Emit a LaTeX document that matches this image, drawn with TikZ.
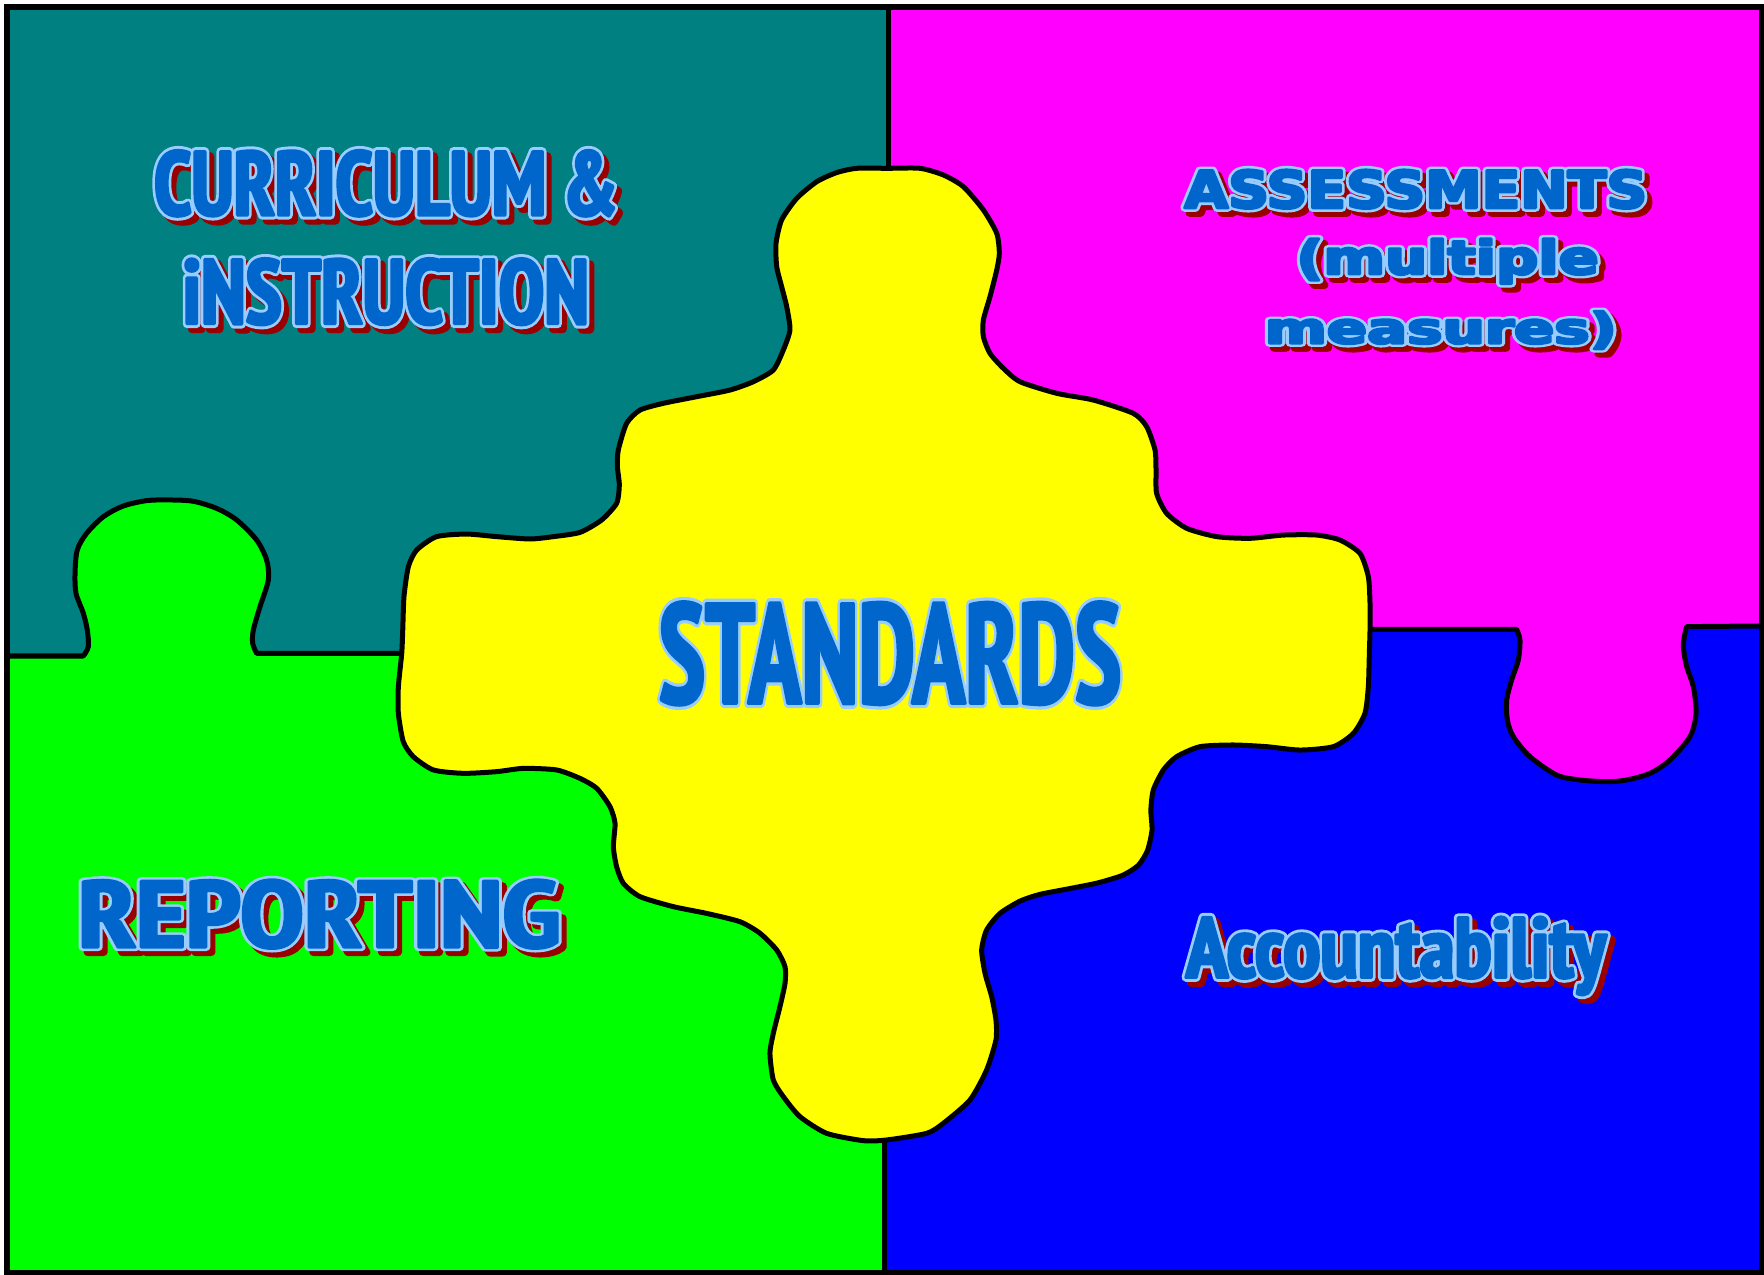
\documentclass[tikz,border=0pt]{standalone}
\usepackage{fontspec}
\usepackage{graphicx}
\IfFontExistsTF{PT Sans Narrow}
  {\newfontfamily\wordbase{PT Sans Narrow}}
  {\IfFontExistsTF{Liberation Sans Narrow}
    {\newfontfamily\wordbase{Liberation Sans Narrow}}
    {\newfontfamily\wordbase{DejaVu Sans}}}
\newfontfamily\widebase{DejaVu Sans}
\newcommand\wordfont{\wordbase\bfseries}
\newcommand\widefont{\widebase\bfseries}

\definecolor{pieceteal}{HTML}{008080}
\definecolor{piecemagenta}{HTML}{FF00FF}
\definecolor{piecegreen}{HTML}{00FF00}
\definecolor{pieceblue}{HTML}{0000FF}
\definecolor{pieceyellow}{HTML}{FFFF00}
\definecolor{wordblue}{HTML}{0066CC}
\definecolor{wordring}{HTML}{99CCFF}
\definecolor{wordshadow}{HTML}{990000}

% heavy outlined word with an optional dark red drop shadow
\newsavebox\glyphbox
\newlength\ringw \setlength\ringw{0.03cm}
\newlength\coregrow \setlength\coregrow{0.016cm}
\newlength\natw
\newlength\nath
\newlength\shadowoff
\newcommand\strokedword[5]{% #1 font, #2 fill colour, #3 stroke rgb, #4 pen (bp), #5 text
  \textcolor{#2}{\special{pdf:literal direct 2 Tr #4 w 1 j #3 RG}%
    #1#5\special{pdf:literal direct 0 Tr}}}
\newcommand\puzzleword[5][\wordfont]{% #2 width, #3 height (picture units), #4 text, #5 shadow offset
  \sbox\glyphbox{#1#4}%
  \setlength\natw{\wd\glyphbox}%
  \setlength\nath{\dimexpr\ht\glyphbox+\dp\glyphbox\relax}%
  \pgfmathsetmacro\glyphg{sqrt((#2*0.01125cm/\natw)*(#3*0.01125cm/\nath))}%
  \pgfmathsetmacro\penin{2*\coregrow/\glyphg}%
  \pgfmathsetmacro\penout{\penin+2*\ringw/\glyphg}%
  \pgfmathsetmacro\glyphsx{#2*0.01125cm/(\natw+\penout)}%
  \pgfmathsetmacro\glyphsy{#3*0.01125cm/(\nath+\penout)}%
  \pgfmathsetmacro\peninbp{\penin/1.00375}%
  \pgfmathsetmacro\penoutbp{\penout/1.00375}%
  \setlength\shadowoff{#5}%
  \pgfmathsetlengthmacro\shadowx{\shadowoff/\glyphsx}%
  \pgfmathsetlengthmacro\shadowy{-\shadowoff/\glyphsy}%
  \scalebox{\glyphsx}[\glyphsy]{%
    \ifdim\shadowoff>0pt
      \makebox[0pt][l]{\hspace*{\shadowx}\raisebox{\shadowy}{%
        \strokedword{#1}{wordshadow}{0.6 0 0}{\penoutbp}{#4}}}%
    \fi
    \makebox[0pt][l]{\strokedword{#1}{wordring}{0.6 0.8 1}{\penoutbp}{#4}}%
    \strokedword{#1}{wordblue}{0 0.4 0.8}{\peninbp}{#4}}}

\begin{document}
\begin{tikzpicture}[x=0.01125cm, y=-0.01125cm,
    edge/.style={line width=0.05cm, line join=round, line cap=round},
    word/.style={inner sep=0pt, anchor=center}]
\useasboundingbox (0,0) rectangle (1568,1133.33);

% Filling the four outer pieces
\fill[pieceteal] (6.4,6.4) rectangle (790,583);
\fill[piecemagenta] (790,6.4) rectangle (1566.3,558);
\fill[pieceblue] (786,557) rectangle (1566.3,1131);
\fill[piecegreen] (6.4,583.1) -- plot[smooth, tension=0.5] coordinates {(74.1,583.1) (78.5,574.8) (77.6,560) (74.1,545.2) (67.6,527.4) (66.7,509.6) (68.7,488.9) (77,474.1) (91.9,459.3) (109.6,449.8) (130.4,445) (151.1,444.4) (171.9,445.6) (192.6,451.9) (210.4,462.2) (228.1,480) (237,497.8) (238.5,515.6) (231.1,539.3) (225.2,560) (224.6,571.9) (228.1,580.7)} -- (786,580.7) -- (786,1131) -- (6.4,1131) -- cycle;
\fill[piecemagenta] (1348.1,559.4) -- plot[smooth, tension=0.5] coordinates {(1348.1,559.4) (1351.1,568.9) (1349.6,586.7) (1343.7,604.4) (1339.3,622.2) (1339.9,640) (1345.2,654.8) (1360,672.6) (1383.7,688.9) (1404.4,693.3) (1428.1,694.8) (1445.9,693.3) (1466.7,687.4) (1484.4,675.6) (1502.2,654.8) (1507.6,634.1) (1505.2,610.4) (1499.3,592.6) (1496.3,574.8) (1497.8,562.9) (1499.3,557)} -- (1499.3,550) -- (1348.1,550) -- cycle;

% Drawing the joins between the outer pieces
\draw[edge] (6.4,583.1) -- plot[smooth, tension=0.5] coordinates {(74.1,583.1) (78.5,574.8) (77.6,560) (74.1,545.2) (67.6,527.4) (66.7,509.6) (68.7,488.9) (77,474.1) (91.9,459.3) (109.6,449.8) (130.4,445) (151.1,444.4) (171.9,445.6) (192.6,451.9) (210.4,462.2) (228.1,480) (237,497.8) (238.5,515.6) (231.1,539.3) (225.2,560) (224.6,571.9) (228.1,580.7)} -- (357,580.7);
\draw[edge] (1217.8,559.4) -- plot[smooth, tension=0.5] coordinates {(1348.1,559.4) (1351.1,568.9) (1349.6,586.7) (1343.7,604.4) (1339.3,622.2) (1339.9,640) (1345.2,654.8) (1360,672.6) (1383.7,688.9) (1404.4,693.3) (1428.1,694.8) (1445.9,693.3) (1466.7,687.4) (1484.4,675.6) (1502.2,654.8) (1507.6,634.1) (1505.2,610.4) (1499.3,592.6) (1496.3,574.8) (1497.8,562.9) (1499.3,557)} -- (1566.3,556.4);
\draw[edge] (789.5,6.4) -- (789.5,150);
\draw[edge] (786,1013) -- (786,1131);

% Drawing the centre piece
\filldraw[fill=pieceyellow, edge] plot[smooth cycle, tension=0.4] coordinates {(761.5,149.6) (789,149.6) (817.8,149.6) (838.5,155.5) (856.3,165.9) (874.1,186.6) (886,207.4) (888.3,225.2) (886,240) (880,263.7) (874.1,284.4) (874.1,299.3) (880,314.1) (891.9,327.4) (906.7,339.3) (939.3,349.6) (971.9,355.6) (1007.4,367.4) (1019.3,379.3) (1026.7,400) (1027.6,417.8) (1028.1,438.5) (1037,456.3) (1054.8,469.6) (1081.5,477) (1111.1,478.5) (1140.7,475.6) (1170.4,475.6) (1191.1,480) (1208.9,491.9) (1216.3,512.6) (1217.8,536.3) (1217.8,560) (1217.2,580.7) (1216.3,610.4) (1213.3,634.1) (1203,651.9) (1185.2,663.7) (1155.6,666.7) (1125.9,663.7) (1096.3,662.2) (1066.7,663.7) (1045.9,672.6) (1034.1,684.4) (1025.2,702.2) (1023,720) (1024,738) (1020,756) (1012,769) (998,778) (975,785) (950,790) (924.4,795) (906.7,801) (888.9,811.9) (877,826.7) (872.6,844.4) (875.6,865.2) (881.5,885.9) (885.3,906.7) (885.3,924.4) (877,951.1) (862.2,977.8) (838.5,998.5) (823.7,1007.4) (788.1,1013.3) (767.4,1013.9) (734.8,1007.4) (711.1,992.6) (696.3,974.8) (687.4,960) (684.4,936.3) (687.4,918.5) (693.3,894.8) (697.8,874.1) (697.8,859.3) (690.4,844.4) (675.6,829.6) (657.8,819.3) (628.1,811.9) (598.5,805.9) (568.9,797) (554.1,785.2) (548.1,770.4) (545.2,752.6) (546.7,731.9) (542.2,717) (530.4,700.7) (515.6,691.9) (494.8,684.4) (465.2,683) (441.5,685.9) (411.9,687.4) (385.2,684.4) (367.4,672.6) (358.5,659.3) (354.1,634.1) (354.1,610.4) (357.1,580.7) (358,560) (359.1,530.4) (363,503.7) (370.4,488.9) (388.1,477) (414.8,474.7) (441.5,477) (471.1,479.1) (491.9,477) (515.6,473.2) (534.8,462.2) (548.1,447.4) (550.5,431.1) (548.8,414.8) (549.6,400) (557,376.3) (568.9,364.5) (589.6,358.5) (619.3,352.6) (648.9,346.7) (669.6,339.3) (687.4,328.9) (696.3,311.1) (702.2,293.3) (699.3,272.6) (694.8,254.8) (690.4,237) (689.8,216.3) (694.8,195.5) (708.2,176.3) (726,161.5) (743.7,153.4)};

% Drawing the frame
\draw[line width=0.055cm] (6.4,6.4) rectangle (1566.3,1131);

% Writing the piece names
\node[word] (curA) at (343.1,165.2) {\puzzleword{419.6}{66.5}{CURRICULUM \&}{0.05cm}};
\node[word] (curB) at (342.8,261.5) {\puzzleword{368.5}{67}{iNSTRUCTION}{0.05cm}};
\node[word] (assA) at (1258.5,170.4) {\puzzleword[\widefont]{419.2}{41.5}{ASSESSMENTS}{0.05cm}};
\node[word] (assB) at (1286.7,234.4) {\puzzleword[\widefont]{277.1}{46.8}{(multiple}{0.05cm}};
\node[word] (assC) at (1280.8,295.6) {\puzzleword[\widefont]{321.5}{40}{measures)}{0.05cm}};
\node[word] (std) at (791.1,580.8) {\puzzleword{417.8}{100.7}{STANDARDS}{0pt}};
\node[word] (rep) at (283.7,814.8) {\puzzleword{437}{68.2}{REPORTING}{0.05cm}};
\node[word] (acc) at (1240.8,851.9) {\puzzleword{380.7}{77.1}{Accountability}{0.05cm}};
\end{tikzpicture}
\end{document}
